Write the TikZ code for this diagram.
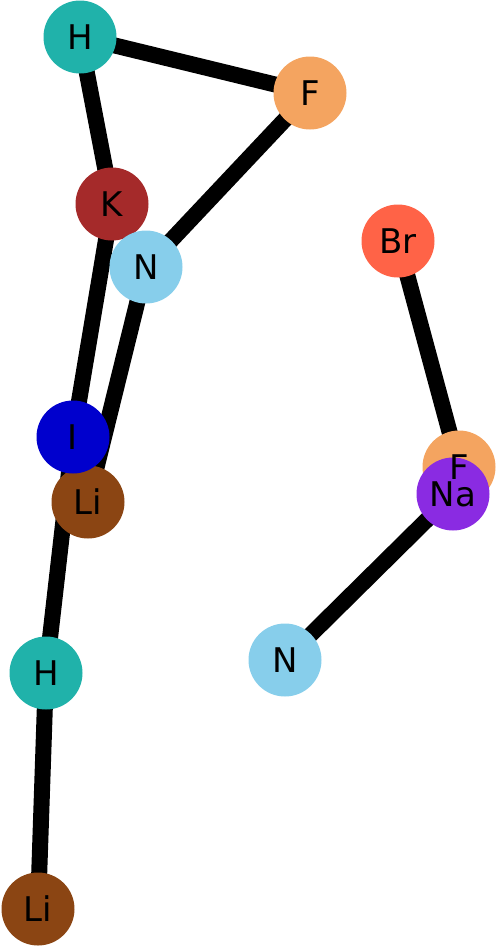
\documentclass[tikz,border=0pt]{standalone}
\usepackage{fontspec}
\setmainfont{DejaVu Sans}
\definecolor{cH}{HTML}{20B2AA}
\definecolor{cF}{HTML}{F4A460}
\definecolor{cK}{HTML}{A52A2A}
\definecolor{cN}{HTML}{87CEEB}
\definecolor{cBr}{HTML}{FF6347}
\definecolor{cI}{HTML}{0000CD}
\definecolor{cNa}{HTML}{8A2BE2}
\definecolor{cLi}{HTML}{8B4513}
\tikzset{
  atom/.style={circle,minimum size=36.5pt,inner sep=0pt,fill=#1},
  atomlabel/.style={inner sep=0pt,font=\fontsize{17}{17}\selectfont},
  bond/.style={line width=8pt}
}
\begin{document}
\begin{tikzpicture}[x=0.5pt,y=-0.5pt]
\useasboundingbox (0,0) rectangle (498,949);
\coordinate (pH1) at (80,37);
\coordinate (pF1) at (310,93);
\coordinate (pK) at (112,204);
\coordinate (pN1) at (146,267);
\coordinate (pBr) at (398,241);
\coordinate (pI) at (73,437);
\coordinate (pF2) at (459,467);
\coordinate (pNa) at (453,494);
\coordinate (pLi1) at (88,502);
\coordinate (pH2) at (46,673);
\coordinate (pN2) at (285,660);
\coordinate (pLi2) at (38,909);
\draw[bond] (pH1) -- (pF1);
\draw[bond] (pH1) -- (pK);
\draw[bond] (pF1) -- (pN1);
\draw[bond] (pK) -- (pI);
\draw[bond] (pN1) -- (pLi1);
\draw[bond] (pI) -- (pH2);
\draw[bond] (pH2) -- (pLi2);
\draw[bond] (pBr) -- (pF2);
\draw[bond] (pNa) -- (pN2);
\node[atom=cH] (H1) at (pH1) {};
\node[atom=cF] (F1) at (pF1) {};
\node[atom=cK] (K) at (pK) {};
\node[atom=cN] (N1) at (pN1) {};
\node[atom=cBr] (Br) at (pBr) {};
\node[atom=cLi] (Li1) at (pLi1) {};
\node[atom=cI] (I) at (pI) {};
\node[atom=cF] (F2) at (pF2) {};
\node[atom=cNa] (Na) at (pNa) {};
\node[atom=cH] (H2) at (pH2) {};
\node[atom=cN] (N2) at (pN2) {};
\node[atom=cLi] (Li2) at (pLi2) {};
\node[atomlabel] (tH1) at (H1) {H};
\node[atomlabel] (tF1) at (F1) {F};
\node[atomlabel] (tK) at (K) {K};
\node[atomlabel] (tN1) at (N1) {N};
\node[atomlabel] (tBr) at (Br) {Br};
\node[atomlabel] (tLi1) at (Li1) {Li};
\node[atomlabel] (tI) at (I) {I};
\node[atomlabel] (tF2) at (F2) {F};
\node[atomlabel] (tNa) at (Na) {Na};
\node[atomlabel] (tH2) at (H2) {H};
\node[atomlabel] (tN2) at (N2) {N};
\node[atomlabel] (tLi2) at (Li2) {Li};
\end{tikzpicture}
\end{document}
